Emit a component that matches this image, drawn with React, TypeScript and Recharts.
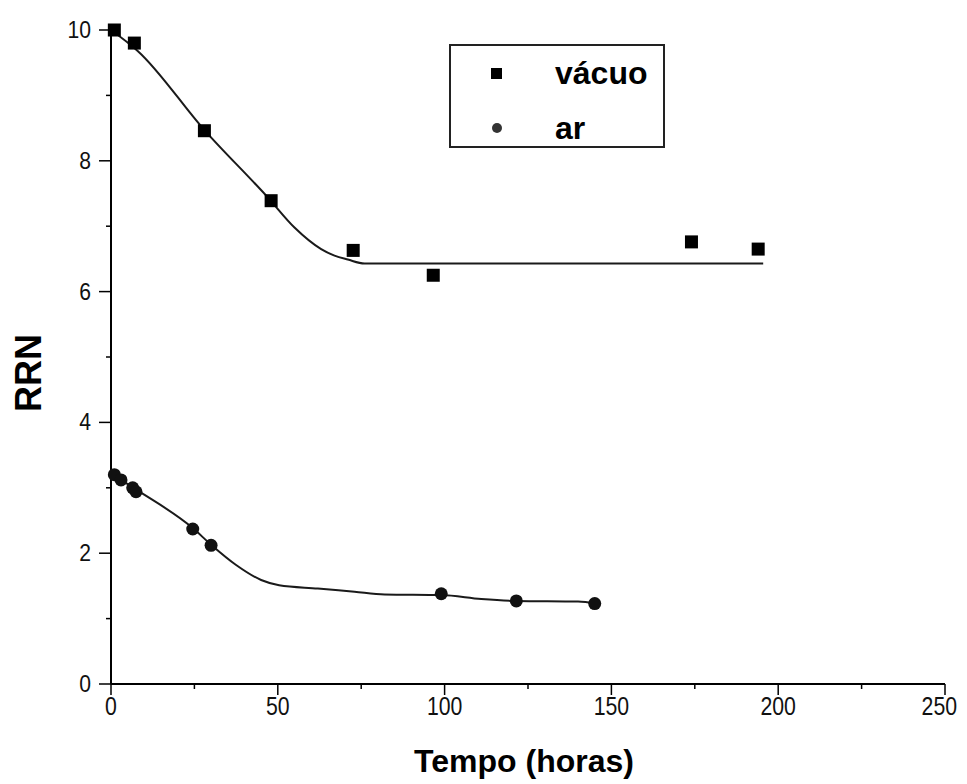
import React from "react";
import { ComposedChart, XAxis, YAxis, Line, Scatter, Legend, Label } from "recharts";

// measured points
const vacuoPts = [
  { x: 1, y: 10.0 },
  { x: 7, y: 9.8 },
  { x: 28, y: 8.46 },
  { x: 48, y: 7.39 },
  { x: 72.6, y: 6.63 },
  { x: 96.6, y: 6.25 },
  { x: 174, y: 6.76 },
  { x: 194, y: 6.65 },
];
const arPts = [
  { x: 1, y: 3.2 },
  { x: 3, y: 3.12 },
  { x: 6.5, y: 3.0 },
  { x: 7.5, y: 2.94 },
  { x: 24.5, y: 2.37 },
  { x: 30, y: 2.12 },
  { x: 99, y: 1.38 },
  { x: 121.5, y: 1.27 },
  { x: 145, y: 1.23 },
];
// fitted curves
const vacuoFit = [
  { x: 0, y: 10.0 },
  { x: 8, y: 9.68 },
  { x: 28, y: 8.47 },
  { x: 47, y: 7.44 },
  { x: 55, y: 6.98 },
  { x: 63, y: 6.65 },
  { x: 67, y: 6.55 },
  { x: 71, y: 6.49 },
  { x: 76, y: 6.43 },
  { x: 195.5, y: 6.43 },
];
const arFit = [
  { x: 0, y: 3.22 },
  { x: 7, y: 2.99 },
  { x: 24.6, y: 2.38 },
  { x: 30, y: 2.13 },
  { x: 37.5, y: 1.82 },
  { x: 45, y: 1.59 },
  { x: 50.4, y: 1.51 },
  { x: 62, y: 1.46 },
  { x: 73, y: 1.41 },
  { x: 82, y: 1.37 },
  { x: 99, y: 1.36 },
  { x: 111, y: 1.3 },
  { x: 121.6, y: 1.27 },
  { x: 140, y: 1.26 },
  { x: 145.4, y: 1.23 },
];
const xTicks = [0, 25, 50, 75, 100, 125, 150, 175, 200, 225, 250];
const yTicks = [0, 1, 2, 3, 4, 5, 6, 7, 8, 9, 10];
const xMajor = [0, 50, 100, 150, 200, 250];
const yMajor = [0, 2, 4, 6, 8, 10];
const seriesNames = ["vácuo", "ar"];
const xTitle = "Tempo (horas)";
const yTitle = "RRN";

const FONT = "'Liberation Sans', Arial, Helvetica, sans-serif";

const XTick = (props: any) => {
  const { x, y, payload } = props;
  const v = payload.value;
  const major = xMajor.includes(v);
  const last = v === xMajor[xMajor.length - 1];
  return (
    <g>
      <line x1={x} x2={x} y1={y} y2={y + (major ? 11 : 5)} stroke="#000" strokeWidth={1.5} />
      {major && (
        <text
          transform={`translate(${last ? x + 12 : x},${y + 31}) scale(0.85,1)`}
          textAnchor={last ? "end" : "middle"}
          fontSize={25}
          fontFamily={FONT}
          fill="#111"
        >
          {v}
        </text>
      )}
    </g>
  );
};

const YTick = (props: any) => {
  const { x, y, payload } = props;
  const v = payload.value;
  const major = yMajor.includes(v);
  return (
    <g>
      <line x1={x - (major ? 12 : 5)} x2={x} y1={y} y2={y} stroke="#000" strokeWidth={1.5} />
      {major && (
        <text
          transform={`translate(${x - 20},${y + 8}) scale(0.92,1)`}
          textAnchor="end"
          fontSize={23}
          fontFamily={FONT}
          fill="#111"
        >
          {v}
        </text>
      )}
    </g>
  );
};

const SquareShape = (p: any) => (
  <rect x={p.cx - 6.5} y={p.cy - 6.5} width={13} height={13} fill="#000" />
);
const CircleShape = (p: any) => <circle cx={p.cx} cy={p.cy} r={6.5} fill="#111" />;

const LegendBox = () => (
  <div
    style={{
      width: 216,
      height: 104,
      border: "2px solid #222",
      boxSizing: "border-box",
      background: "#fff",
    }}
  >
    <svg width={212} height={100} style={{ display: "block" }}>
      <rect x={40} y={22} width={11} height={11} fill="#000" />
      <text x={104} y={38} fontSize={32} fontWeight="bold" fontFamily={FONT} fill="#000">
        {seriesNames[0]}
      </text>
      <circle cx={46} cy={82} r={5} fill="#333" />
      <text x={104} y={93} fontSize={32} fontWeight="bold" fontFamily={FONT} fill="#000">
        {seriesNames[1]}
      </text>
    </svg>
  </div>
);

export default function App() {
  return (
    <div style={{ width: 959, height: 776, background: "#fff" }}>
      <ComposedChart
        width={959}
        height={776}
        margin={{ top: 22, right: 22, bottom: 0, left: 0 }}
      >
        <XAxis
          type="number"
          dataKey="x"
          domain={[0, 250]}
          ticks={xTicks}
          interval={0}
          height={100}
          tickLine={false}
          tickSize={0}
          tickMargin={0}
          tick={<XTick />}
          axisLine={{ stroke: "#000", strokeWidth: 2 }}
        >
          <Label
            content={(p: any) => {
              const vb = p.viewBox;
              return (
                <text
                  x={vb.x + vb.width / 2 - 4}
                  y={764}
                  textAnchor="middle"
                  fontSize={32}
                  fontWeight="bold"
                  fontFamily={FONT}
                  fill="#000"
                >
                  {xTitle}
                </text>
              );
            }}
          />
        </XAxis>
        <YAxis
          type="number"
          dataKey="y"
          domain={[0, 10]}
          ticks={yTicks}
          interval={0}
          width={103}
          tickLine={false}
          tickSize={0}
          tickMargin={0}
          tick={<YTick />}
          axisLine={{ stroke: "#000", strokeWidth: 2 }}
        >
          <Label
            content={(p: any) => {
              const vb = p.viewBox;
              const cx = 20;
              const cy = vb.y + vb.height / 2 + 16;
              return (
                <text
                  x={cx}
                  y={cy}
                  transform={`rotate(-90, ${cx}, ${cy})`}
                  textAnchor="middle"
                  dominantBaseline="central"
                  fontSize={36}
                  fontWeight="bold"
                  fontFamily={FONT}
                  fill="#000"
                >
                  {yTitle}
                </text>
              );
            }}
          />
        </YAxis>
        <Legend
          layout="horizontal"
          verticalAlign="middle"
          align="center"
          wrapperStyle={{ left: 441, top: 36, width: 216, height: 104 }}
          content={<LegendBox />}
        />
        <Line
          data={vacuoFit}
          dataKey="y"
          type="monotone"
          stroke="#1a1a1a"
          strokeWidth={2}
          dot={false}
          activeDot={false}
          isAnimationActive={false}
          legendType="none"
        />
        <Line
          data={arFit}
          dataKey="y"
          type="monotone"
          stroke="#1a1a1a"
          strokeWidth={2}
          dot={false}
          activeDot={false}
          isAnimationActive={false}
          legendType="none"
        />
        <Scatter
          name={seriesNames[0]}
          data={vacuoPts}
          dataKey="y"
          shape={<SquareShape />}
          isAnimationActive={false}
        />
        <Scatter
          name={seriesNames[1]}
          data={arPts}
          dataKey="y"
          shape={<CircleShape />}
          isAnimationActive={false}
        />
      </ComposedChart>
    </div>
  );
}
